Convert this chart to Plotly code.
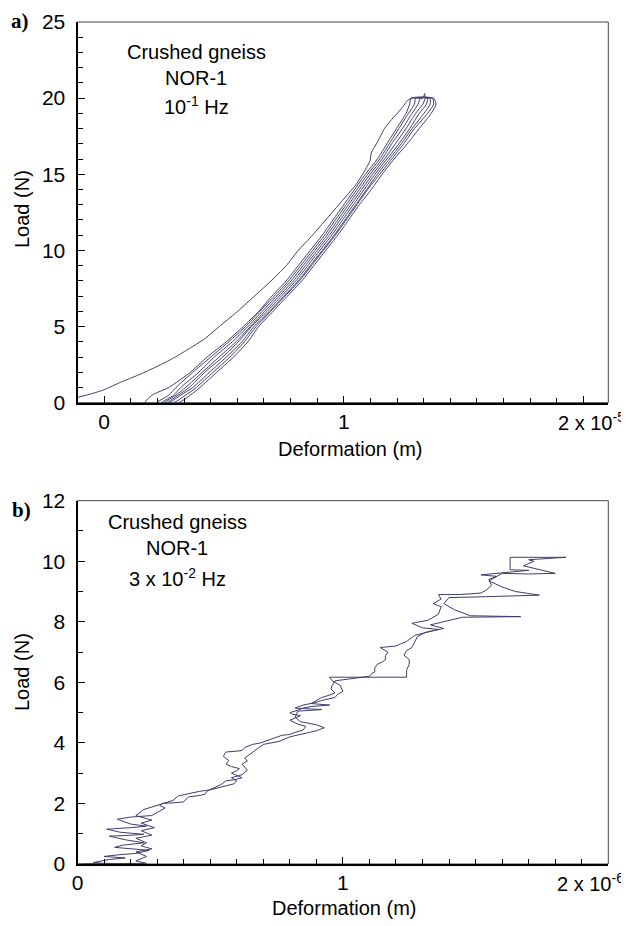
import plotly.graph_objects as go

# window is 629x926; the page body has an 8px margin, so the figure is drawn 8px in
OFF = 8
W, H = 629 - OFF, 926 - OFF
LINE = "#3e3e6c"

# ---------------- Panel a data (x in 1e-5 m, y in N) ----------------
first_load_x = [-0.11, -0.05, 0.00, 0.07, 0.14, 0.21, 0.28, 0.35, 0.42, 0.48, 0.55, 0.62, 0.69, 0.76,
                0.81, 0.87, 0.93, 0.99, 1.05, 1.09, 1.11, 1.115, 1.14, 1.17, 1.20, 1.24, 1.27, 1.29,
                1.33, 1.338, 1.34]
first_load_y = [0.35, 0.60, 0.85, 1.35, 1.80, 2.30, 2.85, 3.50, 4.20, 5.00, 5.90, 6.90, 7.90, 9.00,
                10.0, 11.0, 12.1, 13.2, 14.3, 15.3, 15.9, 16.4, 17.1, 18.0, 18.6, 19.3, 19.9, 20.0,
                20.0, 20.3, 20.0]

cycle_levels = [0, 0.5, 1, 2, 3, 4, 5, 6, 7, 8, 9, 10, 11, 12, 13, 14, 15, 16, 17, 18, 19, 19.6, 20]
strand_1 = [0.17, 0.20, 0.27, 0.36, 0.43, 0.51, 0.58, 0.645, 0.70, 0.76, 0.81, 0.86, 0.91, 0.955, 1.00, 1.045, 1.09, 1.14, 1.18, 1.22, 1.26, 1.275, 1.28]
strand_2 = [0.22, 0.27, 0.30, 0.37, 0.445, 0.52, 0.59, 0.65, 0.71, 0.77, 0.82, 0.87, 0.92, 0.965, 1.01, 1.055, 1.10, 1.15, 1.19, 1.23, 1.27, 1.295, 1.30]
strand_3 = [0.24, 0.29, 0.32, 0.395, 0.46, 0.535, 0.60, 0.66, 0.72, 0.78, 0.83, 0.88, 0.93, 0.975, 1.02, 1.065, 1.11, 1.16, 1.20, 1.245, 1.285, 1.31, 1.32]
strand_4 = [0.25, 0.30, 0.34, 0.41, 0.48, 0.55, 0.61, 0.67, 0.73, 0.79, 0.84, 0.89, 0.94, 0.985, 1.03, 1.075, 1.12, 1.17, 1.215, 1.26, 1.30, 1.33, 1.34]
strand_5 = [0.26, 0.31, 0.355, 0.42, 0.495, 0.56, 0.615, 0.68, 0.74, 0.80, 0.85, 0.90, 0.95, 0.995, 1.04, 1.085, 1.13, 1.18, 1.23, 1.275, 1.315, 1.345, 1.35]
strand_6 = [0.27, 0.32, 0.37, 0.44, 0.51, 0.575, 0.625, 0.69, 0.75, 0.81, 0.86, 0.91, 0.96, 1.005, 1.05, 1.095, 1.14, 1.19, 1.24, 1.285, 1.335, 1.36, 1.36]
strand_7 = [0.29, 0.34, 0.385, 0.455, 0.525, 0.585, 0.635, 0.695, 0.755, 0.815, 0.865, 0.915, 0.965, 1.01, 1.055, 1.10, 1.15, 1.20, 1.25, 1.295, 1.35, 1.375, 1.37]
strand_8 = [0.31, 0.36, 0.40, 0.47, 0.54, 0.60, 0.645, 0.705, 0.765, 0.825, 0.875, 0.925, 0.975, 1.02, 1.065, 1.115, 1.16, 1.21, 1.265, 1.315, 1.365, 1.385, 1.375]

# ---------------- Panel b data (x in 1e-6 m, y in N): (x, y) pairs ----------------
b_loading = [
    (0.00, 0.00), (0.25, 0.01), (0.10, 0.02), (0.06, 0.05), (0.12, 0.15), (0.18, 0.20), (0.10, 0.25),
    (0.15, 0.30), (0.22, 0.35), (0.27, 0.45), (0.20, 0.50), (0.14, 0.55), (0.17, 0.62), (0.25, 0.70),
    (0.18, 0.80), (0.12, 0.92), (0.20, 0.95), (0.25, 0.98), (0.16, 1.05), (0.11, 1.15), (0.20, 1.20),
    (0.26, 1.25), (0.20, 1.32), (0.15, 1.48), (0.20, 1.55), (0.28, 1.60), (0.30, 1.70), (0.33, 1.85),
    (0.31, 1.93), (0.32, 2.00), (0.36, 2.02), (0.40, 2.05), (0.41, 2.15), (0.42, 2.22), (0.45, 2.25),
    (0.48, 2.30), (0.49, 2.42), (0.52, 2.55), (0.54, 2.62), (0.56, 2.75), (0.59, 2.78), (0.62, 2.85),
    (0.60, 2.92), (0.58, 3.00), (0.60, 3.08), (0.61, 3.15), (0.58, 3.22), (0.56, 3.30), (0.57, 3.42),
    (0.55, 3.55), (0.555, 3.65), (0.56, 3.70), (0.59, 3.72), (0.62, 3.75), (0.63, 3.85), (0.66, 3.95),
    (0.69, 4.00), (0.72, 4.10), (0.74, 4.15), (0.77, 4.25), (0.80, 4.28), (0.82, 4.35), (0.85, 4.42),
    (0.86, 4.55), (0.83, 4.62), (0.80, 4.75), (0.82, 4.82), (0.84, 4.90), (0.81, 4.95), (0.80, 5.00),
    (0.83, 5.08), (0.85, 5.15), (0.88, 5.20), (0.95, 5.25), (0.88, 5.30), (0.90, 5.40), (0.92, 5.50),
    (0.95, 5.58), (0.97, 5.65), (0.955, 5.78), (0.96, 5.90), (0.97, 6.05), (1.03, 6.12), (1.10, 6.20),
    (1.11, 6.30), (1.12, 6.35), (1.12, 6.48), (1.13, 6.60), (1.15, 6.68), (1.16, 6.75), (1.16, 6.88),
    (1.17, 7.00), (1.14, 7.15), (1.20, 7.20), (1.22, 7.28), (1.24, 7.35), (1.27, 7.55), (1.36, 7.75),
    (1.30, 7.80), (1.26, 7.95), (1.32, 8.05), (1.34, 8.15), (1.36, 8.25), (1.37, 8.50), (1.34, 8.60),
    (1.37, 8.75), (1.36, 8.90), (1.44, 8.90), (1.52, 8.95), (1.54, 9.05), (1.56, 9.20), (1.55, 9.40),
    (1.58, 9.50), (1.52, 9.55), (1.62, 9.62), (1.70, 9.70), (1.63, 9.72), (1.63, 10.13), (1.75, 10.13),
    (1.84, 10.13),
]
b_unloading = [
    (1.70, 10.05), (1.72, 10.00), (1.68, 9.85), (1.80, 9.60), (1.70, 9.58), (1.60, 9.60), (1.55, 9.35),
    (1.60, 9.15), (1.65, 9.00), (1.74, 8.88), (1.50, 8.82), (1.40, 8.80), (1.38, 8.60), (1.42, 8.40),
    (1.48, 8.20), (1.60, 8.17), (1.67, 8.17), (1.45, 8.15), (1.40, 8.05), (1.33, 7.90), (1.38, 7.78),
    (1.31, 7.65), (1.28, 7.50), (1.27, 7.30), (1.26, 7.15), (1.24, 7.05), (1.23, 6.90), (1.25, 6.75),
    (1.25, 6.60), (1.24, 6.40), (1.24, 6.17), (0.95, 6.17), (0.96, 6.05), (0.99, 5.90), (1.00, 5.70),
    (0.98, 5.60), (0.97, 5.50), (0.92, 5.40), (0.89, 5.32), (0.85, 5.25), (0.82, 5.15), (0.92, 5.10),
    (0.83, 5.05), (0.82, 4.85), (0.84, 4.70), (0.90, 4.60), (0.93, 4.50), (0.90, 4.40), (0.85, 4.30),
    (0.83, 4.25), (0.80, 4.20), (0.76, 4.05), (0.73, 4.00), (0.70, 3.95), (0.68, 3.82), (0.66, 3.70),
    (0.63, 3.50), (0.64, 3.40), (0.62, 3.30), (0.64, 3.10), (0.62, 2.95), (0.58, 2.85), (0.60, 2.75),
    (0.59, 2.65), (0.55, 2.55), (0.50, 2.45), (0.46, 2.40), (0.43, 2.35), (0.38, 2.25), (0.36, 2.10),
    (0.33, 2.02), (0.30, 1.95), (0.25, 1.80), (0.22, 1.60), (0.28, 1.45), (0.24, 1.35), (0.29, 1.20),
    (0.24, 1.10), (0.28, 0.95), (0.22, 0.85), (0.26, 0.70), (0.24, 0.60), (0.28, 0.50), (0.22, 0.40),
    (0.26, 0.25), (0.22, 0.10), (0.26, 0.02), (0.05, 0.01), (0.02, 0.00),
]

# ---------------- build paths ----------------
path_x = list(first_load_x)
path_y = list(first_load_y)
for d, u in [(strand_8, strand_1), (strand_7, strand_2), (strand_6, strand_3), (strand_5, strand_4)]:
    path_x += list(reversed(d))
    path_y += list(reversed(cycle_levels))
    path_x += list(u)
    path_y += list(cycle_levels)

b_pts = b_loading + b_unloading
b_x = [p[0] for p in b_pts]
b_y = [p[1] for p in b_pts]

fig = go.Figure()
fig.add_trace(go.Scatter(x=path_x, y=path_y, mode="lines", xaxis="x", yaxis="y",
                         line=dict(color=LINE, width=1, shape="spline", smoothing=0.6),
                         hoverinfo="skip", showlegend=False))
fig.add_trace(go.Scatter(x=b_x, y=b_y, mode="lines", xaxis="x2", yaxis="y2",
                         line=dict(color=LINE, width=1),
                         hoverinfo="skip", showlegend=False))

# window-pixel -> paper helpers
def px(x):
    return (x - OFF) / W

def py(y):
    return 1 - (y - OFF) / H

XD = [px(77.5), px(608.3)]
TOP_D = [py(402.7), py(22)]
BOT_D = [py(864), py(500.7)]

FONT = "Liberation Sans, Arial, Helvetica, sans-serif"
tickfont = dict(family=FONT, size=21, color="black")

def xaxis(rng, anchor, minor_dtick):
    return dict(domain=XD, range=rng, anchor=anchor, tickvals=[0, 1, 2], ticktext=["0", "1", ""],
                ticks="inside", ticklen=7, tickwidth=1, tickcolor="black",
                minor=dict(ticks="inside", ticklen=5, tickwidth=1, tickcolor="black",
                           dtick=minor_dtick, tick0=0, showgrid=False),
                showline=True, linecolor="black", linewidth=2, showgrid=False, zeroline=False,
                tickfont=tickfont, automargin=False, ticklabelstandoff=-1, fixedrange=True)

def yaxis(rng, dom, anchor, dtick):
    return dict(domain=dom, range=rng, anchor=anchor, dtick=dtick, tick0=0,
                ticks="inside", ticklen=7, tickwidth=1, tickcolor="black",
                minor=dict(ticks="inside", ticklen=5, tickwidth=1, tickcolor="black",
                           dtick=1, tick0=0, showgrid=False),
                showline=True, linecolor="black", linewidth=2, showgrid=False, zeroline=False,
                tickfont=tickfont, automargin=False, ticklabelstandoff=6, fixedrange=True)

fig.update_layout(
    width=W, height=H,
    margin=dict(l=0, r=0, t=0, b=0),
    paper_bgcolor="white", plot_bgcolor="white",
    showlegend=False,
    xaxis=xaxis([-1 / 9, 2.104], "y", 1 / 9),
    yaxis=yaxis([0, 25], TOP_D, "x", 5),
    xaxis2=xaxis([0, 2], "y2", 0.1),
    yaxis2=yaxis([0, 12], BOT_D, "x2", 2),
)

shapes = []
for dom in (TOP_D, BOT_D):
    shapes.append(dict(type="rect", xref="paper", yref="paper", x0=XD[0], x1=XD[1], y0=dom[0], y1=dom[1],
                       line=dict(color="#444444", width=1), layer="below"))
fig.update_layout(shapes=shapes)

ann = []
def text(t, x, y, size=20, family=FONT, angle=0):
    ann.append(dict(text=t, x=px(x), y=py(y), xref="paper", yref="paper", showarrow=False,
                    xanchor="center", yanchor="middle", textangle=angle,
                    font=dict(family=family, size=size, color="black")))

# panel labels
text("<b>a)</b>", 20, 21, size=21, family="Liberation Serif, Times New Roman, serif")
text("<b>b)</b>", 21, 510, size=21, family="Liberation Serif, Times New Roman, serif")
# sample texts
text("Crushed gneiss", 196, 52, size=20)
text("NOR-1", 196, 78, size=20)
text("10<sup>-1</sup> Hz", 196, 106, size=20)
text("Crushed gneiss", 177, 522, size=20)
text("NOR-1", 177, 548, size=20)
text("3 x 10<sup>-2</sup> Hz", 177, 577, size=20)
# axis titles
text("Deformation (m)", 350, 449, size=20)
text("Deformation (m)", 344, 908, size=20)
text("Load (N)", 22, 209, size=20, angle=-90)
text("Load (N)", 22, 672, size=20, angle=-90)
# scale labels at the right end of x axes
text("2 x 10<sup>-5</sup>", 591, 421, size=20)
text("2 x 10<sup>-6</sup>", 590, 882, size=20)

fig.update_layout(annotations=ann)
fig.write_html("out.html")
